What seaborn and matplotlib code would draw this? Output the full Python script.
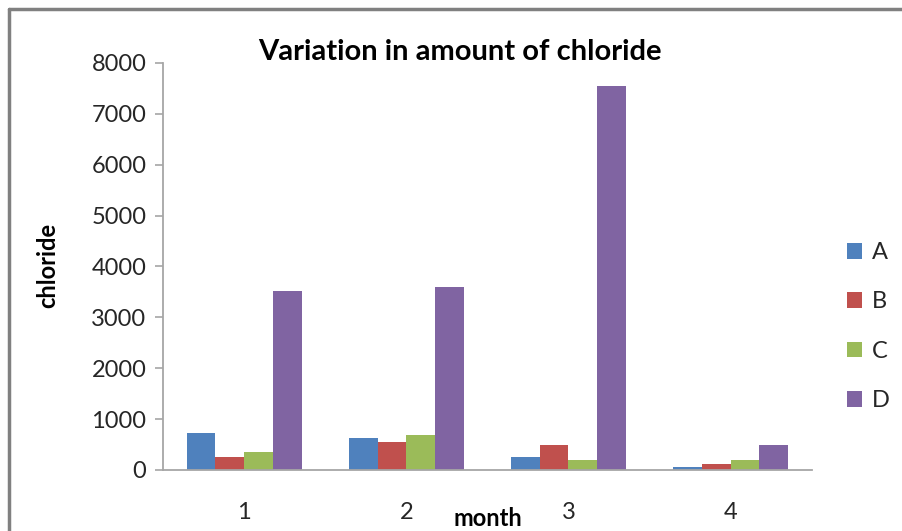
import matplotlib
matplotlib.use("Agg")
import matplotlib.pyplot as plt
import matplotlib.patches as mpatches
from matplotlib.lines import Line2D
import seaborn as sns
import pandas as pd

months = ["1", "2", "3", "4"]
series = ["A", "B", "C", "D"]
values_a = [730, 630, 256, 59]
values_b = [256, 552, 493, 118]
values_c = [355, 690, 197, 197]
values_d = [3527, 3606, 7547, 493]
colors = ["#4F81BD", "#C0504D", "#9BBB59", "#8064A2"]
yticks = [0, 1000, 2000, 3000, 4000, 5000, 6000, 7000, 8000]

rows = []
for name, vals in zip(series, [values_a, values_b, values_c, values_d]):
    for m, v in zip(months, vals):
        rows.append({"month": m, "series": name, "chloride": v})
df = pd.DataFrame(rows)

sns.set_style("white")
plt.rcParams["font.family"] = ["Lato", "DejaVu Sans"]

fig = plt.figure(figsize=(9.03, 5.31), dpi=100, facecolor="white", edgecolor="white")
ax = fig.add_axes([0.1805, 0.1149, 0.7185, 0.7665])

sns.barplot(data=df, x="month", y="chloride", hue="series", order=months,
            hue_order=series, palette=colors, width=0.71, saturation=1,
            linewidth=0, ax=ax, legend=False)

ax.set_ylim(0, 8000)
ax.set_yticks(yticks)
ax.set_yticklabels([str(t) for t in yticks])
ax.set_xlim(-0.5, 3.5)
ax.set_xlabel("")
ax.set_ylabel("")

axis_color = "#A6A6A6"
for side in ["top", "right"]:
    ax.spines[side].set_visible(False)
for side in ["left", "bottom"]:
    ax.spines[side].set_color(axis_color)
    ax.spines[side].set_linewidth(1.3)
ax.tick_params(axis="y", direction="out", length=6, width=1.2, color=axis_color,
               labelsize=17, labelcolor="#262626", pad=6, left=True)
ax.tick_params(axis="x", length=0, labelsize=17, labelcolor="#262626", pad=23)

fig.text(0.509, 0.903, "Variation in amount of chloride", ha="center", va="center",
         fontsize=21, fontweight="bold", color="black")
fig.text(0.053, 0.50, "chloride", rotation=90, ha="center", va="center",
         fontsize=17, fontweight="bold", color="black")
fig.text(0.540, 0.024, "month", ha="center", va="center",
         fontsize=17, fontweight="bold", color="black")

handles = [mpatches.Patch(facecolor=c, edgecolor="none", label=s)
           for s, c in zip(series, colors)]
leg = fig.legend(handles=handles, loc="center left", bbox_to_anchor=(0.938, 0.385),
                 frameon=False, fontsize=17, handlelength=0.65, handleheight=0.65,
                 handletextpad=0.4, labelspacing=1.2, borderaxespad=0, borderpad=0)
for t in leg.get_texts():
    t.set_color("#262626")

# outer chart border: only top and left edges fall inside the canvas
border = dict(color="#808080", linewidth=2.5, transform=fig.transFigure)
fig.lines.append(Line2D([0.010, 1.0], [0.983, 0.983], **border))
fig.lines.append(Line2D([0.010, 0.010], [0.0, 0.983], **border))

fig.savefig("out.png", dpi=100, facecolor="white")
